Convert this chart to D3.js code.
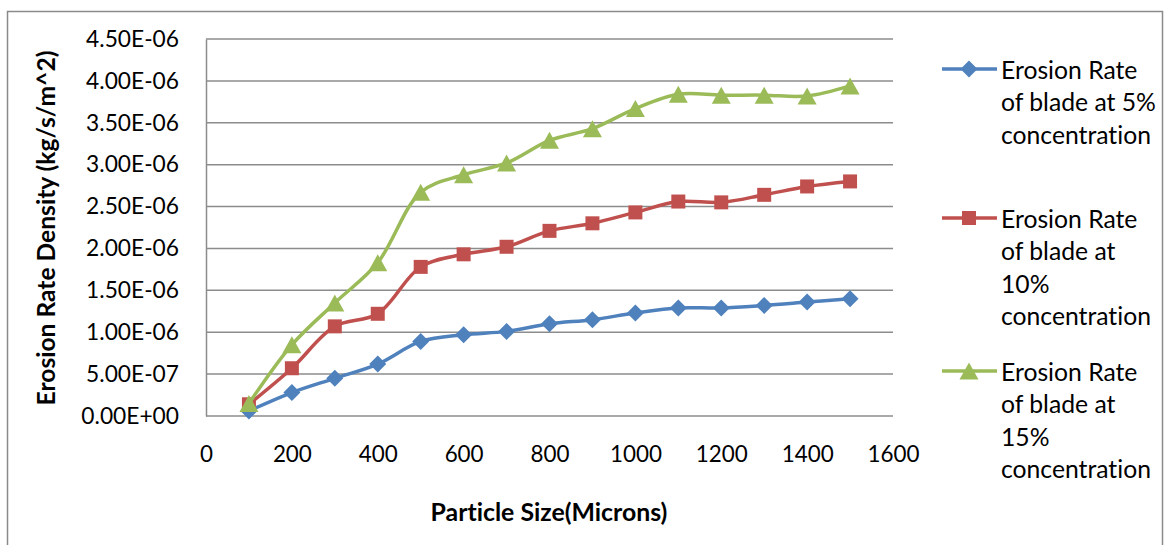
<!DOCTYPE html>
<html>
<head>
<meta charset="utf-8">
<script src="https://cdn.jsdelivr.net/npm/d3@7"></script>
<style>
  html, body { margin: 0; padding: 0; background: #fff; }
  svg { display: block; }
  text {
    font-family: Lato, "Open Sans", "DejaVu Sans", sans-serif;
    fill: #000;
    font-variant-ligatures: none;
    font-feature-settings: "liga" 0, "clig" 0;
  }
</style>
</head>
<body>
<svg id="chart" width="1164" height="545"></svg>
<script>
// Particle sizes (microns)
const particleSizes = [100, 200, 300, 400, 500, 600, 700, 800, 900, 1000, 1100, 1200, 1300, 1400, 1500];

// Erosion rate density (kg/s/m^2) for each slurry concentration
const rate5 = [0.06e-6, 0.28e-6, 0.45e-6, 0.62e-6, 0.89e-6, 0.97e-6, 1.01e-6, 1.10e-6, 1.15e-6, 1.23e-6, 1.29e-6, 1.29e-6, 1.32e-6, 1.36e-6, 1.40e-6];
const rate10 = [0.14e-6, 0.57e-6, 1.07e-6, 1.22e-6, 1.78e-6, 1.93e-6, 2.02e-6, 2.21e-6, 2.30e-6, 2.43e-6, 2.56e-6, 2.55e-6, 2.64e-6, 2.74e-6, 2.80e-6];
const rate15 = [0.15e-6, 0.85e-6, 1.35e-6, 1.83e-6, 2.67e-6, 2.88e-6, 3.02e-6, 3.29e-6, 3.43e-6, 3.67e-6, 3.84e-6, 3.83e-6, 3.83e-6, 3.82e-6, 3.94e-6];

const seriesNames = [
  ["Erosion Rate", "of blade at 5%", "concentration"],
  ["Erosion Rate", "of blade at", "10%", "concentration"],
  ["Erosion Rate", "of blade at", "15%", "concentration"]
];

// Axis ticks
const xTicks = [0, 200, 400, 600, 800, 1000, 1200, 1400, 1600];
const yTicks = [0, 0.5e-6, 1.0e-6, 1.5e-6, 2.0e-6, 2.5e-6, 3.0e-6, 3.5e-6, 4.0e-6, 4.5e-6];
const yTickLabels = ["0.00E+00", "5.00E-07", "1.00E-06", "1.50E-06", "2.00E-06", "2.50E-06", "3.00E-06", "3.50E-06", "4.00E-06", "4.50E-06"];

const xTitle = "Particle Size(Microns)";
const yTitle = "Erosion Rate Density (kg/s/m^2)";

const colors = ["#4F81BD", "#C0504D", "#9BBB59"];
const markerKinds = ["diamond", "square", "triangle"];

const svg = d3.select("#chart");
const plot = { left: 206, right: 893, top: 39, bottom: 416 };

const x = d3.scaleLinear().domain([0, 1600]).range([plot.left, plot.right]);
const y = d3.scaleLinear().domain([0, 4.5e-6]).range([plot.bottom, plot.top]);

// Pick a font size so that a sample string spans the wanted width
function sizeFor(sample, width, weight) {
  const t = svg.append("text")
    .style("font-size", "100px")
    .style("font-weight", weight || "normal")
    .text(sample);
  const w = t.node().getComputedTextLength();
  t.remove();
  return 100 * width / w;
}
const tickSizeY = sizeFor("4.50E-06", 93);
const tickSizeX = sizeFor("1000", 52);
const legendSize = sizeFor("concentration", 150);
const xTitleSize = sizeFor(xTitle, 237, "bold");
const yTitleSize = sizeFor(yTitle, 355, "bold");

// Outer chart frame
svg.append("rect")
  .attr("x", 7.5).attr("y", 11.5)
  .attr("width", 1155).attr("height", 545)
  .attr("fill", "none").attr("stroke", "#8a8a8a").attr("stroke-width", 1.5);

// Horizontal gridlines
svg.append("g")
  .selectAll("line")
  .data(yTicks)
  .join("line")
  .attr("x1", plot.left).attr("x2", plot.right)
  .attr("y1", d => y(d)).attr("y2", d => y(d))
  .attr("stroke", "#8c8c8c").attr("stroke-width", 1.5);

// Y axis
const yAxis = d3.axisLeft(y)
  .tickValues(yTicks)
  .tickSize(0)
  .tickPadding(27)
  .tickFormat((d, i) => yTickLabels[i]);
const gy = svg.append("g").attr("transform", `translate(${plot.left},0)`).call(yAxis);
gy.select(".domain").attr("stroke", "#8c8c8c").attr("stroke-width", 1.5);
gy.selectAll("text").style("font-size", tickSizeY + "px").style("font-family", null);

// X axis (labels only, no ticks)
const xAxis = d3.axisBottom(x)
  .tickValues(xTicks)
  .tickSize(0)
  .tickPadding(30)
  .tickFormat(d3.format("d"));
const gx = svg.append("g").attr("transform", `translate(0,${plot.bottom})`).call(xAxis);
gx.select(".domain").remove();
gx.selectAll("text").style("font-size", tickSizeX + "px").style("font-family", null);

// Axis titles
svg.append("text")
  .attr("x", 549).attr("y", 511)
  .attr("text-anchor", "middle").attr("dominant-baseline", "central")
  .style("font-size", xTitleSize + "px").style("font-weight", "bold")
  .text(xTitle);

svg.append("text")
  .attr("transform", "translate(45,228) rotate(-90)")
  .attr("text-anchor", "middle").attr("dominant-baseline", "central")
  .style("font-size", yTitleSize + "px").style("font-weight", "bold")
  .text(yTitle);

// Marker shapes
function markerPath(kind) {
  if (kind === "diamond") {
    const r = 8.5;
    return `M0,${-r}L${r},0L0,${r}L${-r},0Z`;
  }
  if (kind === "square") {
    const h = 7;
    return `M${-h},${-h}H${h}V${h}H${-h}Z`;
  }
  const w = 9.5, h = 8.5;
  return `M0,${-h}L${w},${h}L${-w},${h}Z`;
}

const series = [rate5, rate10, rate15].map((vals, i) => ({
  values: vals.map((v, j) => ({ x: particleSizes[j], y: v })),
  color: colors[i],
  kind: markerKinds[i],
  name: seriesNames[i]
}));

const line = d3.line()
  .x(d => x(d.x))
  .y(d => y(d.y))
  .curve(d3.curveCatmullRom.alpha(0.5));

const gSeries = svg.append("g")
  .selectAll("g")
  .data(series)
  .join("g");

gSeries.append("path")
  .attr("d", d => line(d.values))
  .attr("fill", "none")
  .attr("stroke", d => d.color)
  .attr("stroke-width", 3.5)
  .attr("stroke-linejoin", "round");

gSeries.each(function (s) {
  d3.select(this).selectAll("path.marker")
    .data(s.values)
    .join("path")
    .attr("class", "marker")
    .attr("transform", d => `translate(${x(d.x)},${y(d.y)})`)
    .attr("d", markerPath(s.kind))
    .attr("fill", s.color);
});

// Legend
const legendTops = [69, 218, 371];
const lineGap = 32.5;
const legend = svg.append("g")
  .selectAll("g")
  .data(series)
  .join("g")
  .attr("transform", (d, i) => `translate(0,${legendTops[i]})`);

legend.append("line")
  .attr("x1", 942).attr("x2", 997)
  .attr("y1", 0).attr("y2", 0)
  .attr("stroke", d => d.color).attr("stroke-width", 3.5);

legend.append("path")
  .attr("transform", "translate(969,0)")
  .attr("d", d => markerPath(d.kind))
  .attr("fill", d => d.color);

legend.each(function (s) {
  d3.select(this).selectAll("text")
    .data(s.name)
    .join("text")
    .attr("x", 1001)
    .attr("y", (d, k) => k * lineGap)
    .attr("dominant-baseline", "central")
    .style("font-size", legendSize + "px")
    .text(d => d);
});
</script>
</body>
</html>
